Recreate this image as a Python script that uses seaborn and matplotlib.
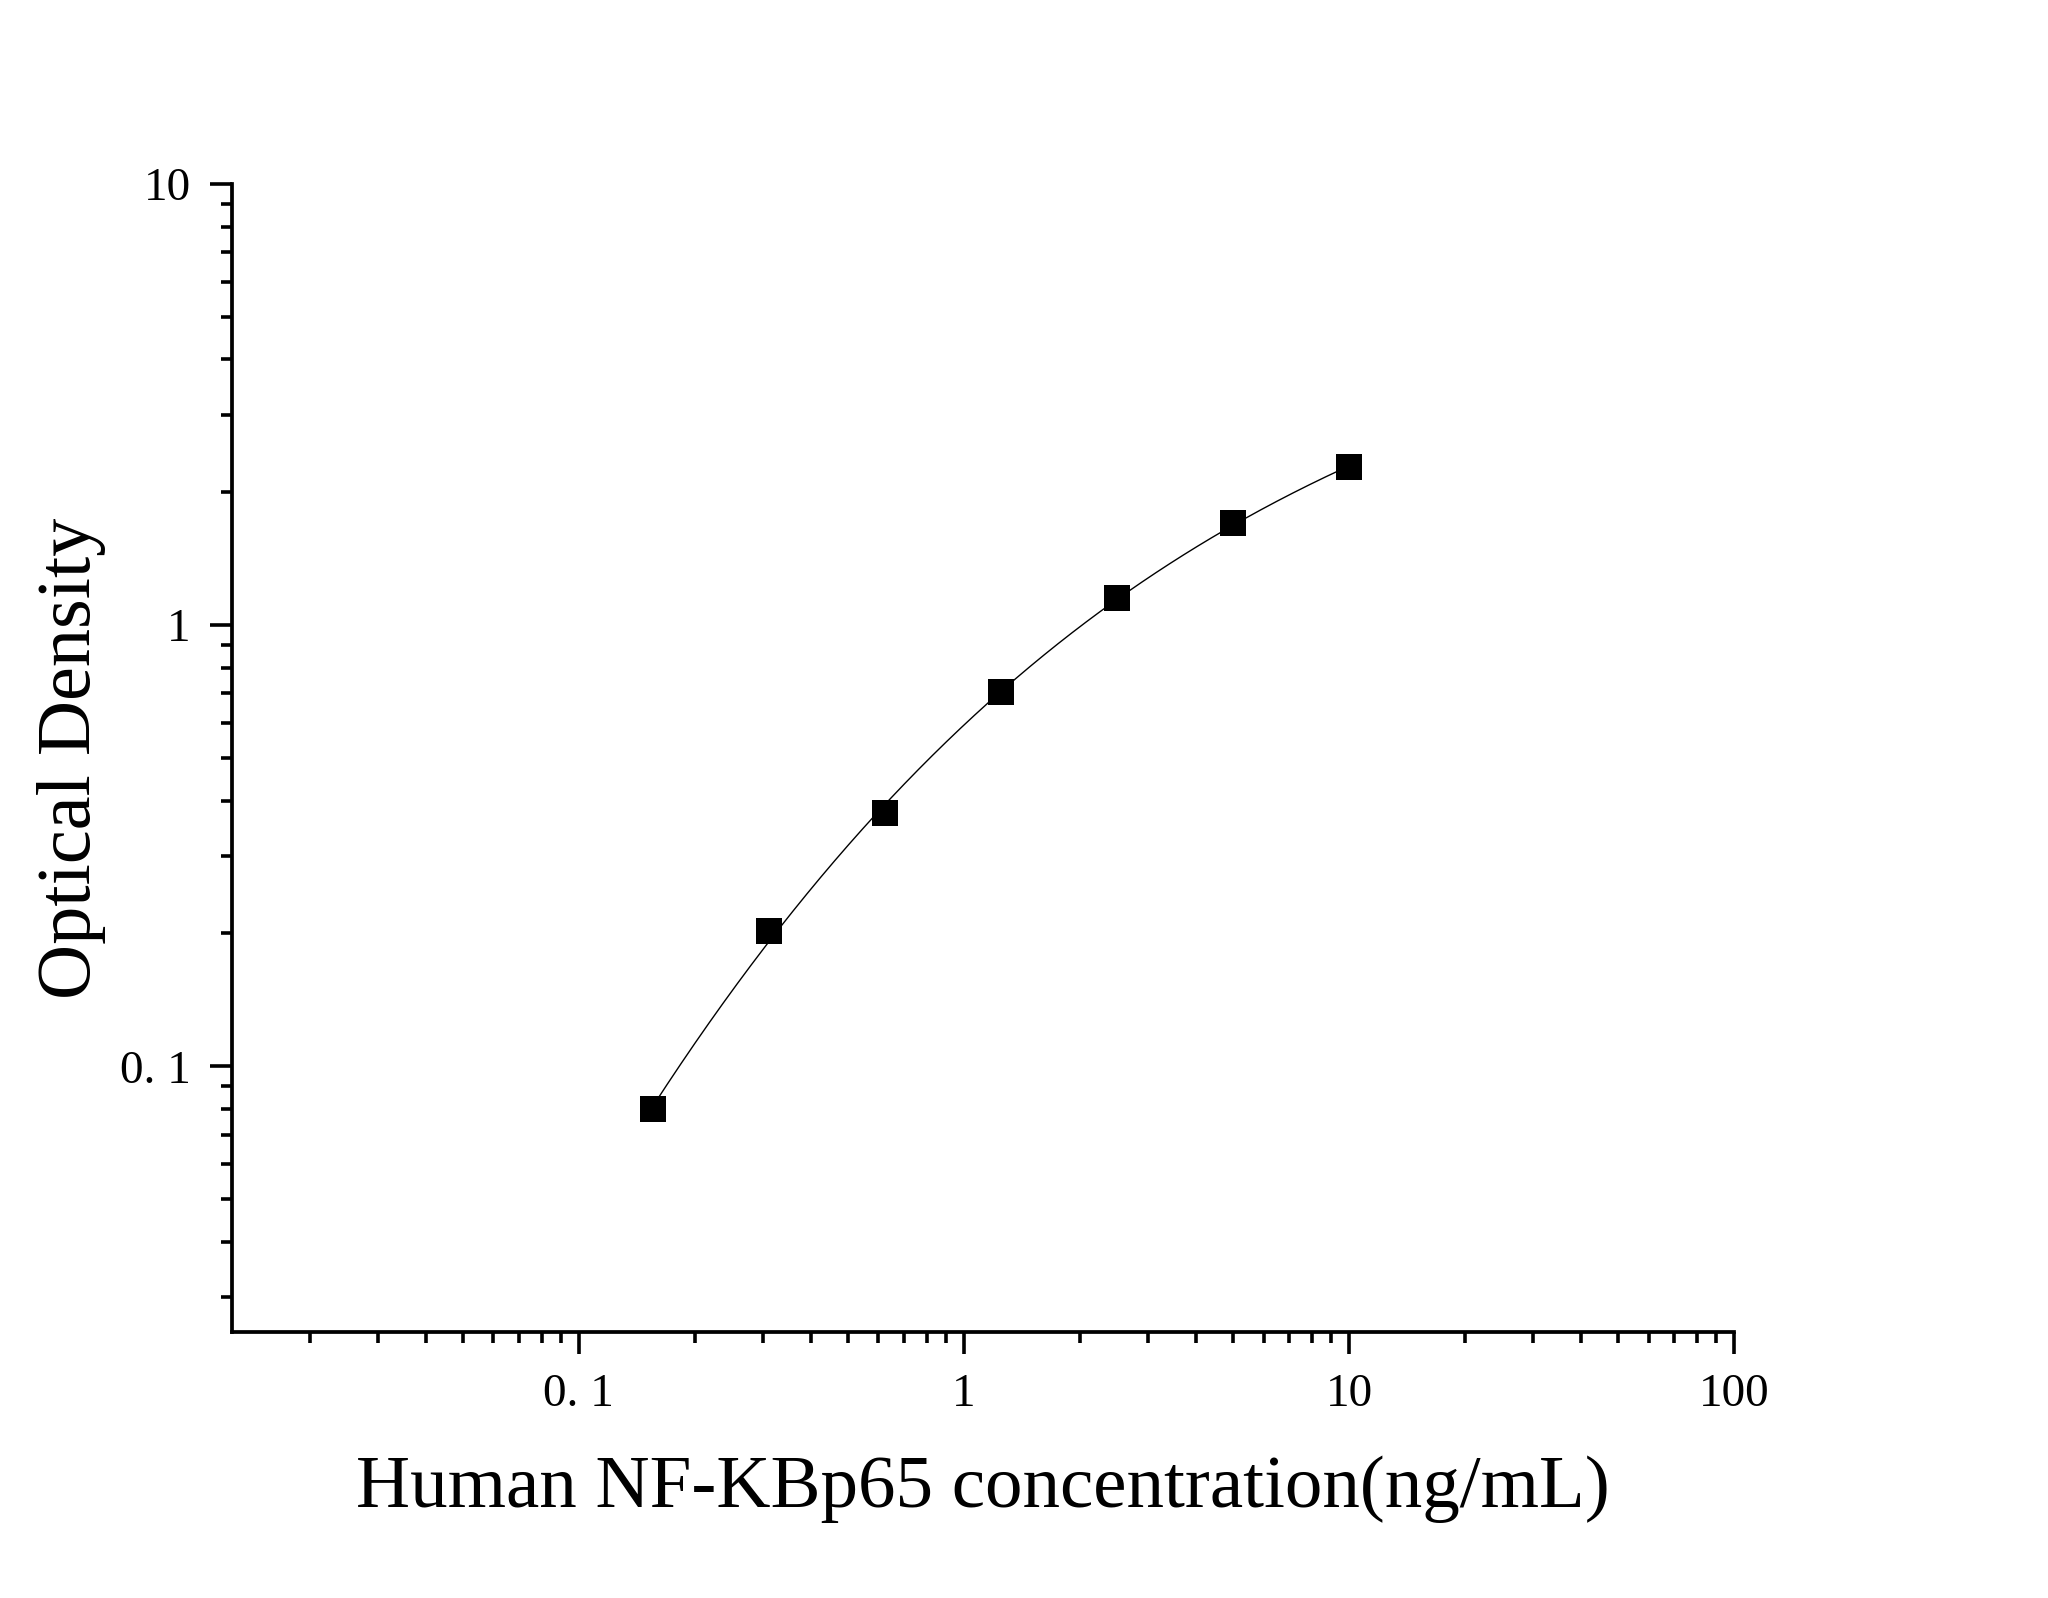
import numpy as np
import pandas as pd
import matplotlib
matplotlib.use("Agg")
import matplotlib.pyplot as plt
import matplotlib.ticker as mticker
import seaborn as sns

# standard curve points
concentration = [0.156, 0.3125, 0.625, 1.25, 2.5, 5.0, 10.0]
optical_density = [0.080, 0.203, 0.375, 0.707, 1.155, 1.70, 2.28]

x_ticks = [0.1, 1, 10, 100]
x_tick_labels = ["0. 1", "1", "10", "100"]
y_ticks = [0.1, 1, 10]
y_tick_labels = ["0. 1", "1", "10"]

data = pd.DataFrame({"conc": concentration, "od": optical_density})

# fitted curve (cubic in log-log space)
lx = np.log10(data["conc"])
ly = np.log10(data["od"])
coef = np.polyfit(lx, ly, 3)
xs = np.linspace(lx.min(), lx.max(), 300)
fit = pd.DataFrame({"conc": 10 ** xs, "od": 10 ** np.polyval(coef, xs)})

sns.set_style("ticks")
plt.rcParams["font.family"] = ["Liberation Serif", "DejaVu Serif"]
plt.rcParams["text.color"] = "black"
plt.rcParams["axes.labelcolor"] = "black"
plt.rcParams["xtick.color"] = "black"
plt.rcParams["ytick.color"] = "black"

fig = plt.figure(figsize=(20.48, 15.98), dpi=100)
ax = fig.add_axes([0.1135, 0.1665, 0.8467 - 0.1135, 0.8849 - 0.1665])

sns.lineplot(data=fit, x="conc", y="od", color="black", linewidth=1.0, ax=ax)
sns.scatterplot(data=data, x="conc", y="od", marker="s", s=340, color="black",
                edgecolor="black", linewidth=0, ax=ax, zorder=3)

ax.set_xscale("log")
ax.set_yscale("log")
ax.set_xlim(0.0126, 100)
ax.set_ylim(0.025, 10)

ax.set_xticks(x_ticks)
ax.set_xticklabels(x_tick_labels)
ax.set_yticks(y_ticks)
ax.set_yticklabels(y_tick_labels)
ax.xaxis.set_minor_locator(mticker.LogLocator(base=10, subs=np.arange(2, 10)))
ax.yaxis.set_minor_locator(mticker.LogLocator(base=10, subs=np.arange(2, 10)))
ax.xaxis.set_minor_formatter(mticker.NullFormatter())
ax.yaxis.set_minor_formatter(mticker.NullFormatter())

ax.tick_params(which="major", length=16, width=2.6, labelsize=34, pad=14)
ax.tick_params(which="minor", length=8, width=2.6)

for side in ["top", "right"]:
    ax.spines[side].set_visible(False)
for side in ["left", "bottom"]:
    ax.spines[side].set_linewidth(2.7)
    ax.spines[side].set_color("black")

ax.set_xlabel("Human NF-KBp65 concentration(ng/mL)", fontsize=54, labelpad=28)
ax.set_ylabel("Optical Density", fontsize=55, labelpad=10)

fig.savefig("out.png", dpi=100, facecolor="white")
